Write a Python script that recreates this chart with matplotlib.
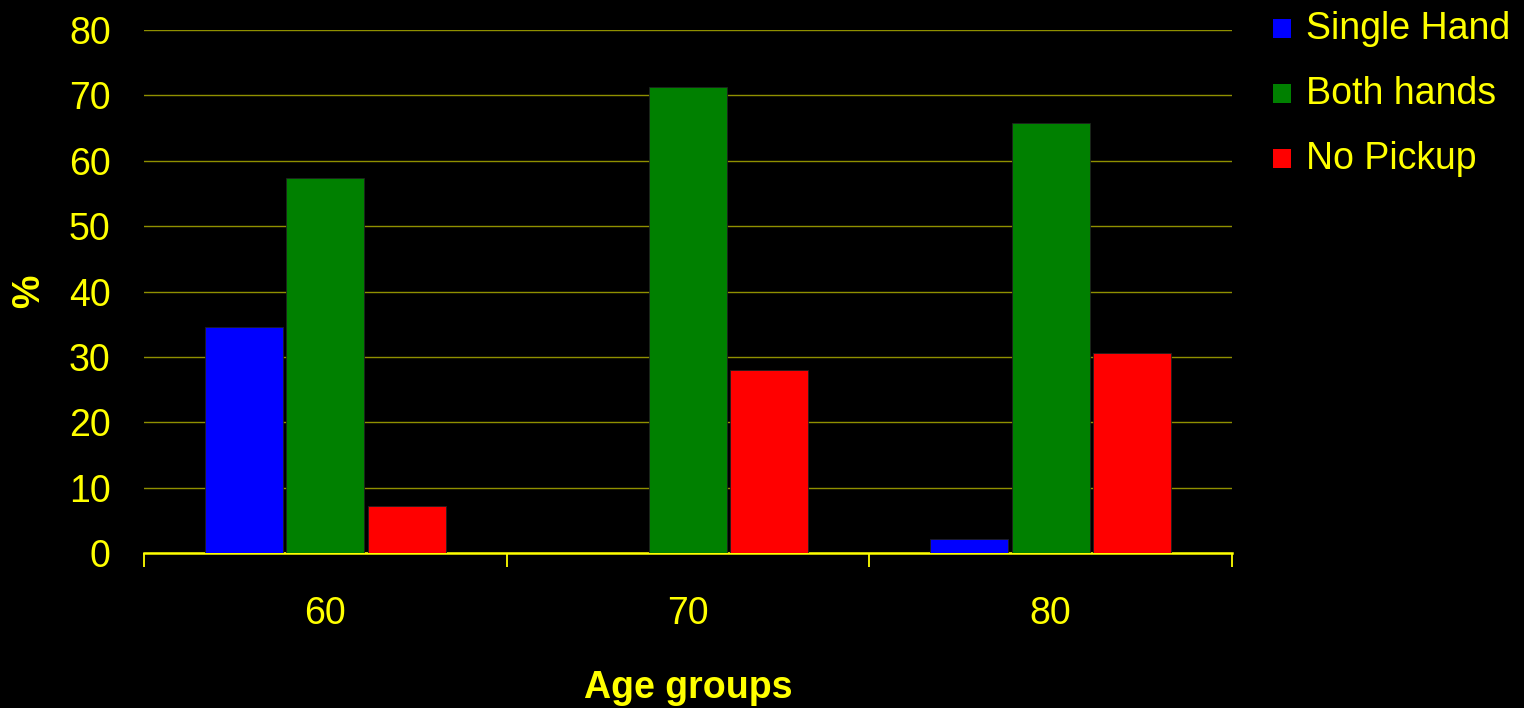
import numpy as np
import matplotlib.pyplot as plt
from matplotlib.patches import Rectangle

# Survey results by age group (%)
age_groups = ['60', '70', '80']
single_hand = [34.6, 0.0, 2.1]
both_hands = [57.4, 71.3, 65.8]
no_pickup = [7.2, 28.0, 30.6]

series = [('Single Hand', single_hand, '#0000FF'),
          ('Both hands', both_hands, '#008000'),
          ('No Pickup', no_pickup, '#FF0000')]

plt.rcParams['font.family'] = ['Liberation Sans', 'DejaVu Sans']
yellow = '#FFFF00'
W, H = 1524, 708

fig = plt.figure(figsize=(W / 100, H / 100), dpi=100, facecolor='black')
ax = fig.add_axes([144 / W, 155 / H, (1232 - 144) / W, (553 - 30) / H])
ax.set_facecolor('black')

x = np.arange(len(age_groups))
width = 0.215
step = 0.224
for i, (name, vals, color) in enumerate(series):
    ax.bar(x + (i - 1) * step, vals, width, color=color, edgecolor='#202020',
           linewidth=0.6, label=name, zorder=3)

ax.set_ylim(0, 80)
ax.set_xlim(-0.5, 2.5)
ax.set_yticks(range(0, 81, 10))
ax.yaxis.grid(True, color='#8F8F00', linewidth=1.0, zorder=0)
ax.tick_params(axis='y', length=0, pad=24, labelsize=27, labelcolor=yellow)

ax.set_xticks(x)
ax.set_xticklabels(age_groups)
ax.set_xticks([-0.5, 0.5, 1.5, 2.5], minor=True)
ax.tick_params(axis='x', which='major', length=0, pad=31, labelsize=27, labelcolor=yellow)
ax.tick_params(axis='x', which='minor', length=10, width=1.3, color=yellow, direction='out')

for side in ['top', 'right', 'left']:
    ax.spines[side].set_visible(False)
ax.spines['bottom'].set_color(yellow)
ax.spines['bottom'].set_linewidth(1.8)

ax.set_xlabel('Age groups', color=yellow, fontsize=27, fontweight='bold', labelpad=27)
ax.set_ylabel('%', color=yellow, fontsize=27, fontweight='bold', labelpad=16)

# legend: colour squares with labels, one row every 65 px
for i, (name, vals, color) in enumerate(series):
    top = 19 + 65 * i
    fig.patches.append(Rectangle((1273 / W, 1 - (top + 19) / H), 18 / W, 19 / H,
                                 transform=fig.transFigure, facecolor=color,
                                 edgecolor='none'))
    fig.text(1306 / W, 1 - (39 + 65 * i) / H, name, color=yellow, fontsize=27,
             ha='left', va='baseline')

fig.savefig('out.png', dpi=100, facecolor='black')
